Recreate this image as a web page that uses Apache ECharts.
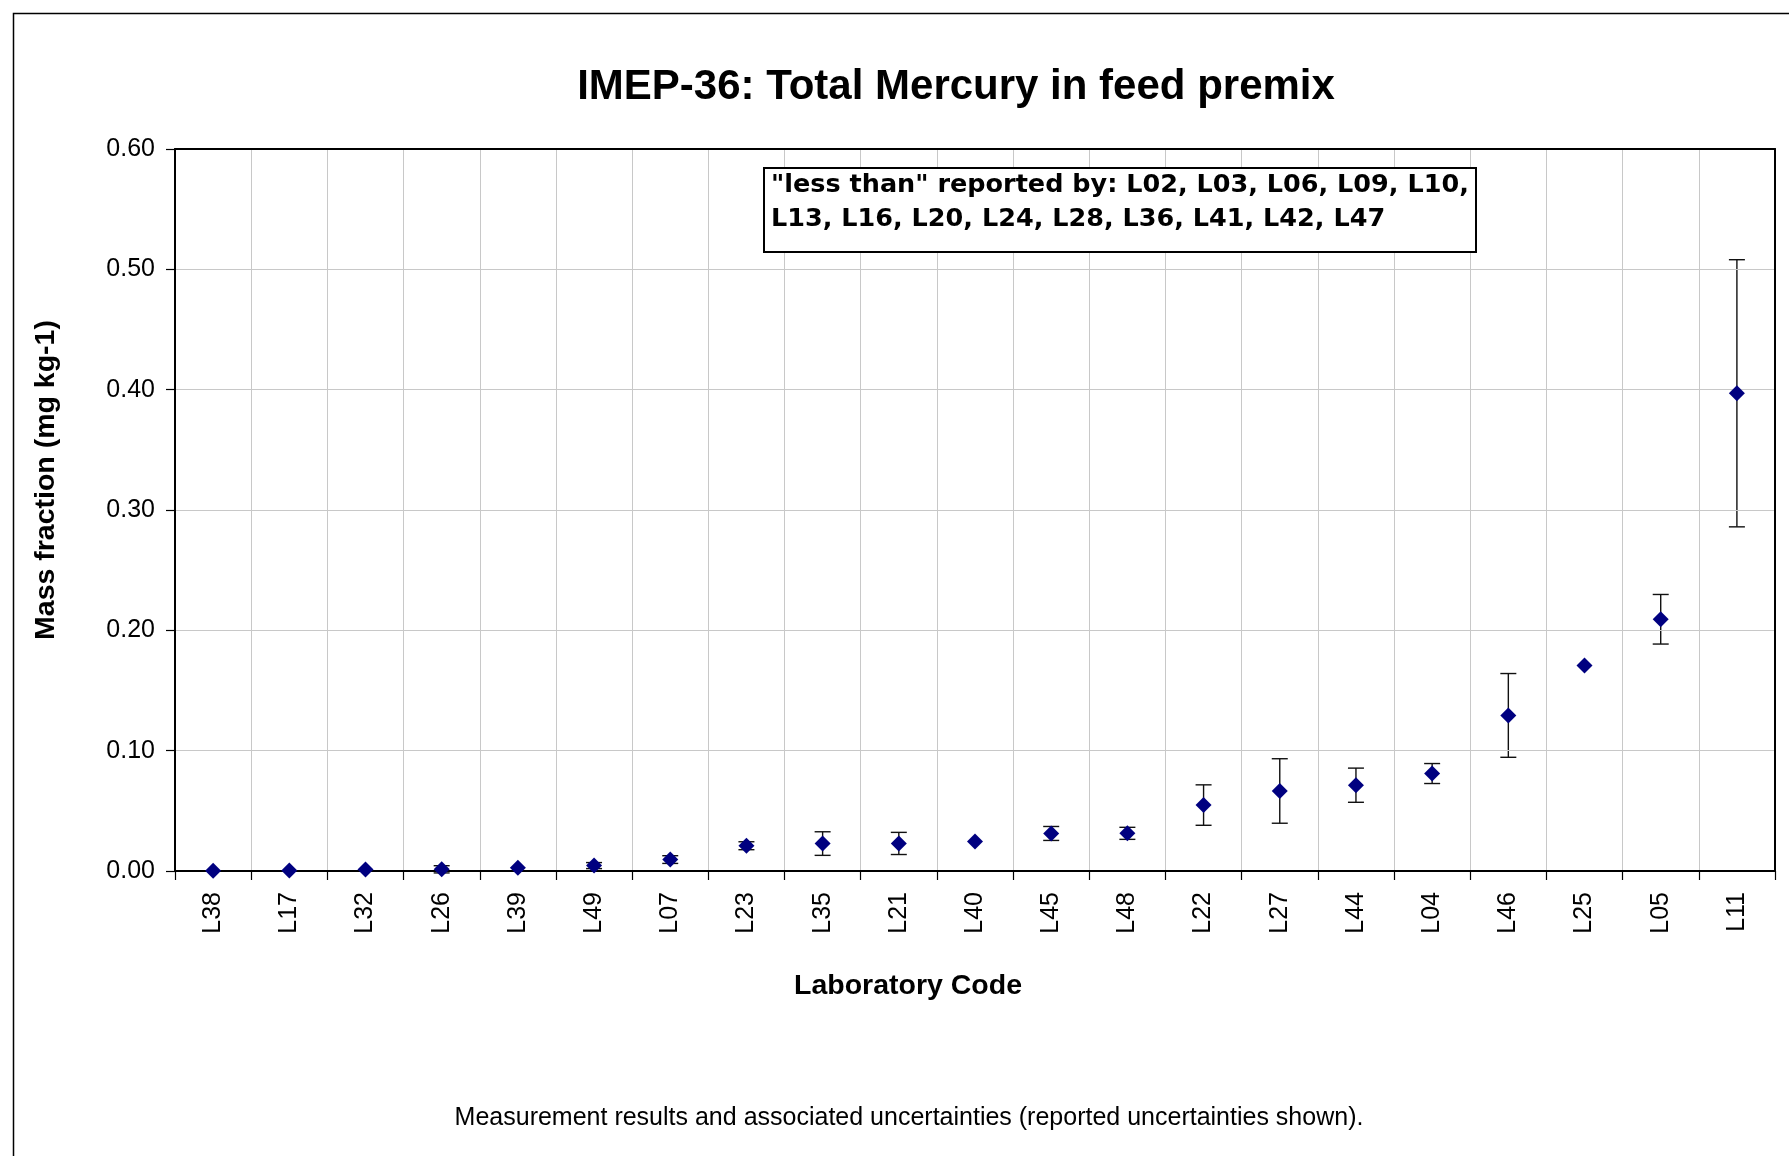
<!DOCTYPE html>
<html>
<head>
<meta charset="utf-8">
<script src="https://cdn.jsdelivr.net/npm/echarts@6/dist/echarts.min.js"></script>
<style>
html,body{margin:0;padding:0;background:#fff;}
#chart{width:1789px;height:1156px;}
</style>
</head>
<body>
<div id="chart"></div>
<script>
var labs = ['L38','L17','L32','L26','L39','L49','L07','L23','L35','L21','L40','L45','L48','L22','L27','L44','L04','L46','L25','L05','L11'];
var values = [0.0002,0.0004,0.0012,0.0014,0.0028,0.0045,0.0095,0.021,0.0228,0.0229,0.0246,0.0312,0.0313,0.0548,0.0665,0.0713,0.081,0.1293,0.1708,0.2092,0.397];
var uncertainties = [0,0,0,0.003,0,0.0025,0.0032,0.0033,0.0098,0.0092,0,0.0058,0.005,0.0168,0.0268,0.0142,0.0083,0.0348,0,0.0206,0.111];
var yTicks = {min:0, max:0.6, interval:0.1};
var titleText = 'IMEP-36: Total Mercury in feed premix';
var yTitle = 'Mass fraction (mg kg-1)';
var xTitle = 'Laboratory Code';
var noteText = 'Measurement results and associated uncertainties (reported uncertainties shown).';
var boxLines = ['"less than" reported by: L02, L03, L06, L09, L10,', 'L13, L16, L20, L24, L28, L36, L41, L42, L47'];

var errData = [];
for (var i = 0; i < labs.length; i++) {
  if (uncertainties[i] > 0) errData.push([i, values[i] - uncertainties[i], values[i] + uncertainties[i]]);
}
var pts = values.map(function(v, i){ return [i, v]; });

var chart = echarts.init(document.getElementById('chart'), null, {renderer:'canvas'});
var F = '"Liberation Sans", Arial, sans-serif';
var V = '"DejaVu Sans", Verdana, sans-serif';
chart.setOption({
  backgroundColor:'#fff',
  animation:false,
  grid:{left:175, right:14, top:149, bottom:285},
  xAxis:[{
    type:'category', data:labs, boundaryGap:true, z:2,
    axisLine:{lineStyle:{color:'#000', width:2}},
    axisTick:{show:true, length:9, lineStyle:{color:'#000', width:1.2}},
    axisLabel:{rotate:90, fontFamily:F, fontSize:25, color:'#000', margin:21, interval:0},
    splitLine:{show:true, lineStyle:{color:'#c8c8c8', width:1}}
  },{
    type:'category', data:labs, position:'top', boundaryGap:true, z:6,
    axisLine:{show:true, onZero:false, lineStyle:{color:'#000', width:2}},
    axisTick:{show:false}, axisLabel:{show:false}, splitLine:{show:false}
  }],
  yAxis:[{
    type:'value', min:yTicks.min, max:yTicks.max, interval:yTicks.interval, z:2,
    axisLine:{show:true, lineStyle:{color:'#000', width:2}},
    axisTick:{show:true, length:9, lineStyle:{color:'#000', width:1.2}},
    axisLabel:{fontFamily:F, fontSize:25, color:'#000', margin:20, formatter:function(v){return v.toFixed(2);}},
    splitLine:{show:true, lineStyle:{color:'#c8c8c8', width:1}}
  },{
    type:'value', position:'right', min:yTicks.min, max:yTicks.max, interval:yTicks.interval, z:6,
    axisLine:{show:true, onZero:false, lineStyle:{color:'#000', width:2}},
    axisTick:{show:false}, axisLabel:{show:false}, splitLine:{show:false}
  }],
  series:[
    {
      type:'custom', z:1, data:errData, clip:false,
      renderItem:function(params, api){
        var x = api.value(0), lo = api.value(1), hi = api.value(2);
        var a = api.coord([x, lo]), b = api.coord([x, hi]);
        var hw = 8, st = {stroke:'#111', lineWidth:1.4};
        return {type:'group', children:[
          {type:'line', shape:{x1:a[0], y1:a[1], x2:b[0], y2:b[1]}, style:st},
          {type:'line', shape:{x1:b[0]-hw, y1:b[1], x2:b[0]+hw, y2:b[1]}, style:st},
          {type:'line', shape:{x1:a[0]-hw, y1:a[1], x2:a[0]+hw, y2:a[1]}, style:st}
        ]};
      }
    },
    {
      type:'scatter', z:3, data:pts, symbol:'diamond', symbolSize:[16,16],
      itemStyle:{color:'#000080', opacity:1}
    }
  ],
  graphic:[
    {type:'rect', left:11, top:11, shape:{width:1800, height:1200}, style:{fill:'none', stroke:'#000', lineWidth:1.5}, silent:true},
    {type:'text', x:956, y:87, style:{text:titleText, font:'bold 42px '+F, fill:'#000', textAlign:'center', textVerticalAlign:'middle'}},
    {type:'text', x:46, y:480, rotation:Math.PI/2, style:{text:yTitle, font:'bold 28.5px '+F, fill:'#000', textAlign:'center', textVerticalAlign:'middle'}},
    {type:'text', x:908, y:986, style:{text:xTitle, font:'bold 28.5px '+F, fill:'#000', textAlign:'center', textVerticalAlign:'middle'}},
    {type:'text', x:909, y:1118, style:{text:noteText, font:'25px '+F, fill:'#000', textAlign:'center', textVerticalAlign:'middle'}},
    {type:'rect', left:763, top:167, z:10, shape:{width:712, height:84}, style:{fill:'#fff', stroke:'#000', lineWidth:2}},
    {type:'text', x:771, y:185, z:11, style:{text:boxLines[0], font:'bold 25.5px '+V, fill:'#000', textAlign:'left', textVerticalAlign:'middle'}},
    {type:'text', x:771, y:219, z:11, style:{text:boxLines[1], font:'bold 25.5px '+V, fill:'#000', textAlign:'left', textVerticalAlign:'middle'}}
  ]
});
</script>
</body>
</html>
